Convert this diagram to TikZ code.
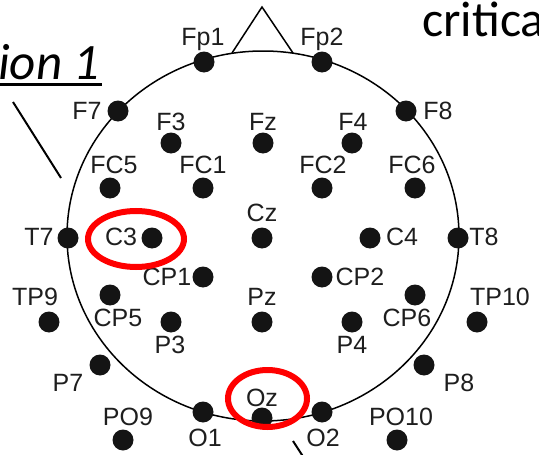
\documentclass[tikz,border=0pt]{standalone}
\usepackage{fontspec}
\setmainfont{Liberation Sans}
\newfontfamily\calibrifont{Carlito}
\definecolor{dotc}{HTML}{141414}
\definecolor{lblc}{HTML}{1E1E1E}
\definecolor{ringred}{HTML}{FF0000}
\begin{document}
\begin{tikzpicture}[x=1pt,y=-1pt,
  electrode/.style={circle, fill=dotc, inner sep=0pt, minimum size=21pt},
  lbl/.style={inner sep=0pt, text height=17.9pt, text depth=0pt, font=\fontsize{25}{25}\selectfont, text=lblc},
  redring/.style={draw=ringred, line width=6pt},
  headline/.style={draw=black, line width=1.5pt},
  bigtext/.style={inner sep=0pt, anchor=base west, font=\calibrifont\fontsize{#1}{#1}\selectfont}
]
\useasboundingbox (0,0) rectangle (539,455);
% head outline and nose
\draw[headline] (263,236) ellipse [x radius=196pt, y radius=185pt];
\draw[headline, line join=miter] (232,53) -- (262,7) -- (293,53);
% electrodes
\foreach \n/\x/\y in {Fp1/204/62, Fp2/322/62, F7/118/111, F8/406/111,
  F3/171/143, Fz/263/143, F4/352/143,
  FC5/110/188, FC1/203/188, FC2/322/188, FC6/415/188,
  T7/68/238, C3/152/238, Cz/262/238, C4/370/238, T8/458/238,
  CP1/203/277, CP2/322/277, CP5/110/295, CP6/415/295,
  TP9/49/322, P3/171/322, Pz/262/322, P4/352/322, TP10/477/322,
  P7/100/365, P8/424/365,
  O1/203/412, Oz/262/418, O2/322/412,
  PO9/123/440, PO10/397/440}
  {\node[electrode] (\n) at (\x,\y) {};}
% labels
\foreach \n/\x/\y in {Fp1/203/37, Fp2/322/37, F7/87/111, F8/438/111,
  F3/171/122, Fz/263/122, F4/353/122,
  FC5/114/165, FC1/203/165, FC2/323/165, FC6/412/165,
  T7/39/237, C3/121/237, Cz/262/213, C4/402/237, T8/484/237,
  CP1/167/277, CP2/360/277, CP5/118/318, CP6/407/318,
  TP9/35/297, P3/170/345, Pz/262/297, P4/352/345, TP10/500/297,
  P7/68/383, P8/459/383,
  O1/205/438, Oz/262/398, O2/323/438,
  PO9/128/417, PO10/401/417}
  {\node[lbl] (\n-l) at (\x,\y) {\n};}
% red highlight rings
\draw[redring] (136,239) ellipse [x radius=48pt, y radius=28pt];
\draw[redring] (267.5,398.5) ellipse [x radius=39.5pt, y radius=28.5pt];
% surrounding text fragments
\node[bigtext=51] (ion) at (-2,79) {\itshape ion 1};
\draw[line width=3pt] (0,84) -- (102,84);
\node[bigtext=50] (crit) at (422,37) {critica};
\draw[line width=2pt] (13,102) -- (61,178);
\draw[line width=2pt] (293,441) -- (304,458);
\end{tikzpicture}
\end{document}
